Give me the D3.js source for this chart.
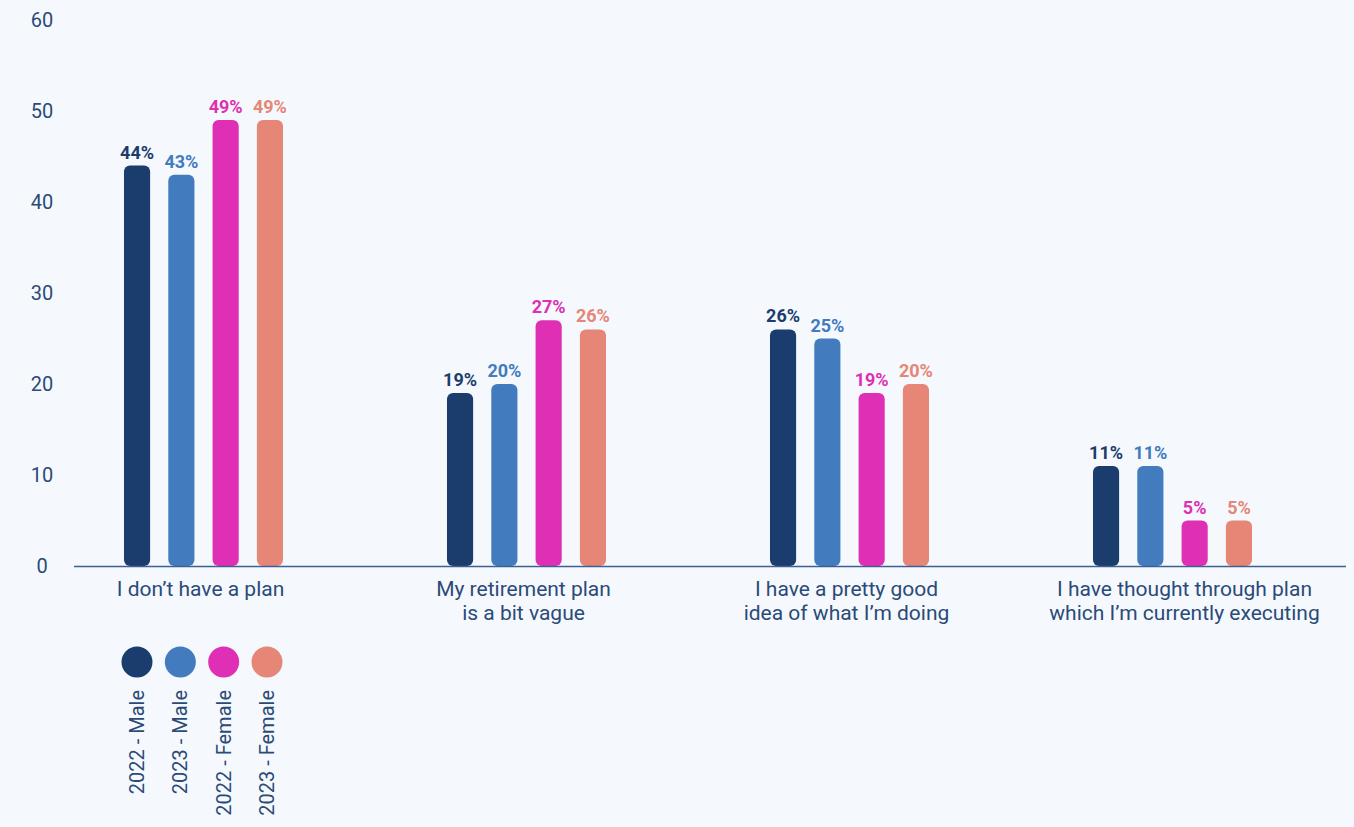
<!DOCTYPE html>
<html>
<head>
<meta charset="utf-8">
<script src="https://cdn.jsdelivr.net/npm/d3@7/dist/d3.min.js"></script>
<style>
  html, body { margin: 0; padding: 0; background: #f5f9fd; }
  svg { display: block; font-family: Roboto, "Noto Sans", sans-serif; }
</style>
</head>
<body>
<svg id="chart" width="1354" height="827"></svg>
<script>
// Retirement-plan status by survey year and gender (percent of respondents)
const categories = [
  ["I don\u2019t have a plan"],
  ["My retirement plan", "is a bit vague"],
  ["I have a pretty good", "idea of what I\u2019m doing"],
  ["I have thought through plan", "which I\u2019m currently executing"]
];
const seriesNames = ["2022 - Male", "2023 - Male", "2022 - Female", "2023 - Female"];
const seriesColors = ["#1b3d6e", "#427bbe", "#de2fb5", "#e58676"];
const male2022   = [44, 19, 26, 11];
const male2023   = [43, 20, 25, 11];
const female2022 = [49, 27, 19, 5];
const female2023 = [49, 26, 20, 5];
const yTicks = [0, 10, 20, 30, 40, 50, 60];

const seriesValues = [male2022, male2023, female2022, female2023];
const textColor = "#2b4a78";

const svg = d3.select("#chart");
svg.append("rect").attr("width", 1354).attr("height", 827).attr("fill", "#f5f9fd");

const y = d3.scaleLinear().domain([0, 60]).range([566, 20]);
const x0 = d3.scaleBand().domain(d3.range(categories.length)).range([42, 1334]);
const x1 = d3.scaleBand().domain(seriesNames).range([-88.6, 88.6])
  .paddingInner(0.41).paddingOuter(0.205);

// y tick labels (no gridlines)
svg.append("g").selectAll("text").data(yTicks).join("text")
  .attr("x", 42).attr("y", d => y(d)).attr("dy", "0.35em")
  .attr("text-anchor", "middle").attr("font-size", 20)
  .attr("fill", textColor).text(d => d);

// bars
const groups = svg.append("g").selectAll("g").data(categories).join("g")
  .attr("transform", (d, i) => `translate(${x0(i) + x0.bandwidth() / 2},0)`);

groups.each(function (cat, ci) {
  const g = d3.select(this);
  const rows = seriesNames.map((s, si) => ({ s, si, v: seriesValues[si][ci] }));
  g.selectAll("rect").data(rows).join("rect")
    .attr("x", d => x1(d.s)).attr("width", x1.bandwidth())
    .attr("y", d => y(d.v)).attr("height", d => y(0) - y(d.v))
    .attr("rx", 6).attr("ry", 6)
    .attr("fill", d => seriesColors[d.si]);
  g.selectAll("text.val").data(rows).join("text")
    .attr("class", "val")
    .attr("x", d => x1(d.s) + x1.bandwidth() / 2)
    .attr("y", d => y(d.v) - 7)
    .attr("text-anchor", "middle").attr("font-size", 18).attr("font-weight", 700)
    .attr("fill", d => seriesColors[d.si]).text(d => d.v + "%");
});

// x axis baseline
svg.append("line").attr("x1", 74).attr("x2", 1346)
  .attr("y1", y(0) + 0.5).attr("y2", y(0) + 0.5)
  .attr("stroke", "#3d5f91").attr("stroke-width", 1.3);

// category labels
const catLabels = svg.append("g").selectAll("text").data(categories).join("text")
  .attr("text-anchor", "middle").attr("font-size", 21).attr("fill", textColor)
  .attr("transform", (d, i) => `translate(${x0(i) + x0.bandwidth() / 2 + (i === 3 ? 12 : -3)},596)`);
catLabels.selectAll("tspan").data(d => d).join("tspan")
  .attr("x", 0).attr("y", (d, i) => i * 24).text(d => d);

// legend: dots with vertical labels
const lx = d3.scalePoint().domain(seriesNames).range([137, 267]);
const legend = svg.append("g");
legend.selectAll("circle").data(seriesNames).join("circle")
  .attr("cx", d => lx(d)).attr("cy", 662).attr("r", 15.5)
  .attr("fill", (d, i) => seriesColors[i]);
legend.selectAll("text").data(seriesNames).join("text")
  .attr("transform", d => `translate(${lx(d) + 7},690) rotate(-90)`)
  .attr("text-anchor", "end").attr("font-size", 20).attr("fill", textColor)
  .text(d => d);
</script>
</body>
</html>
